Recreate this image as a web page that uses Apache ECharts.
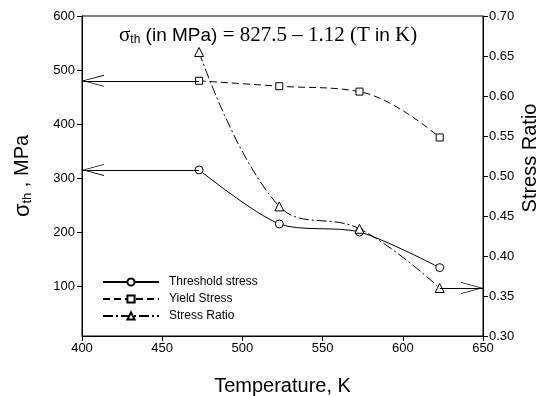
<!DOCTYPE html>
<html>
<head>
<meta charset="utf-8">
<script src="https://cdn.jsdelivr.net/npm/echarts@6/dist/echarts.min.js"></script>
<style>html,body{margin:0;padding:0;background:#fff}#c{width:552px;height:396px}</style>
</head>
<body>
<div id="c"></div>
<script>
// ---- data ----
var temperatures = [473, 523, 573, 623];
var thresholdStress = [315, 215, 200, 134];
var yieldStress = [480, 470, 460, 375];
var stressRatio = [0.655, 0.462, 0.434, 0.36];
var xTicks = [400, 450, 500, 550, 600, 650];
var leftTicks = [100, 200, 300, 400, 500, 600];
var rightTicks = [0.30, 0.35, 0.40, 0.45, 0.50, 0.55, 0.60, 0.65, 0.70];

function pairs(xs, ys) { return xs.map(function (x, i) { return [x, ys[i]]; }); }

var chevron = 'path://M10,0 M10,20 L20,40 L18.6,40 L10,22.5 L1.4,40 L0,40 Z';
var sans = '"Liberation Sans", Arial, sans-serif';
var serif = '"Liberation Serif", "Times New Roman", serif';

var chart = echarts.init(document.getElementById('c'), null, {renderer: 'canvas'});
var axisCommon = {
  axisLine: {show: true, lineStyle: {color: '#000', width: 1}},
  axisTick: {show: true, inside: false, length: 5, lineStyle: {color: '#000'}},
  splitLine: {show: false},
  axisLabel: {color: '#000', fontFamily: sans, fontSize: 13}
};
function arrowLine(from, to, symbols) {
  return {
    silent: true,
    symbol: symbols,
    symbolSize: [12, 44],
    label: {show: false},
    lineStyle: {color: '#000', type: 'solid', width: 1},
    emphasis: {disabled: true},
    animation: false,
    data: [[{coord: from}, {coord: to}]]
  };
}
var option = {
  animation: false,
  backgroundColor: '#fff',
  grid: {left: 82, right: 69, top: 16, bottom: 60, outerBoundsMode: 'none', containLabel: false,
    show: true, borderColor: '#000', borderWidth: 1, backgroundColor: 'transparent'},
  title: {
    text: '{s|σ}{sub|th}{a| (in MPa)}{b| = 827.5 – 1.12 (T }{a|in}{b| K)}',
    left: 114, top: 20,
    textStyle: {
      fontWeight: 'normal',
      rich: {
        s: {fontFamily: serif, fontSize: 21, color: '#000', fontWeight: 'normal'},
        sub: {fontFamily: sans, fontSize: 12, color: '#000', fontWeight: 'normal', verticalAlign: 'bottom', padding: [8, 0, 0, 0]},
        a: {fontFamily: sans, fontSize: 19, color: '#000', fontWeight: 'normal'},
        b: {fontFamily: serif, fontSize: 21, color: '#000', fontWeight: 'normal'}
      }
    }
  },
  legend: {
    orient: 'vertical', left: 97, top: 271,
    itemWidth: 56, itemHeight: 9, itemGap: 5,
    textStyle: {fontFamily: sans, fontSize: 12, color: '#000', padding: [0, 0, 0, 5]},
    data: ['Threshold stress', 'Yield Stress', 'Stress Ratio']
  },
  xAxis: Object.assign({}, axisCommon, {
    type: 'value', min: 400, max: 650, interval: 50,
    name: 'Temperature, K', nameLocation: 'middle', nameGap: 40,
    nameTextStyle: {fontFamily: sans, fontSize: 20, color: '#000'},
    axisLabel: Object.assign({}, axisCommon.axisLabel, {margin: 6, customValues: xTicks}),
    axisTick: Object.assign({}, axisCommon.axisTick, {customValues: xTicks})
  }),
  yAxis: [
    Object.assign({}, axisCommon, {
      type: 'value', min: 7.4, max: 600, position: 'left',
      name: '{s|σ}{sub|th}{a| , MPa}', nameLocation: 'middle', nameGap: 48,
      nameTextStyle: {rich: {
        s: {fontFamily: sans, fontSize: 22, color: '#000'},
        sub: {fontFamily: sans, fontSize: 13, color: '#000', verticalAlign: 'bottom', padding: [10, 0, 0, 0]},
        a: {fontFamily: sans, fontSize: 20, color: '#000'}
      }},
      axisLabel: Object.assign({}, axisCommon.axisLabel, {margin: 7, customValues: leftTicks}),
      axisTick: Object.assign({}, axisCommon.axisTick, {customValues: leftTicks})
    }),
    Object.assign({}, axisCommon, {
      type: 'value', min: 0.30, max: 0.70, position: 'right',
      axisLabel: Object.assign({}, axisCommon.axisLabel, {margin: 6, customValues: rightTicks,
        formatter: function (v) { return v.toFixed(2); }}),
      axisTick: Object.assign({}, axisCommon.axisTick, {customValues: rightTicks})
    })
  ],
  graphic: [{
    type: 'text', x: 530, y: 158, rotation: Math.PI / 2,
    style: {text: 'Stress Ratio', fontFamily: sans, fontSize: 20, fill: '#000', align: 'center', verticalAlign: 'middle'}
  }],
  series: [
    {
      name: 'Threshold stress', type: 'line', yAxisIndex: 0, smooth: 0.28,
      data: pairs(temperatures, thresholdStress),
      symbol: 'circle', symbolSize: 8,
      itemStyle: {color: '#fff', borderColor: '#000', borderWidth: 1},
      lineStyle: {color: '#000', width: 1, type: 'solid'},
      markLine: arrowLine([400, thresholdStress[0]], [temperatures[0], thresholdStress[0]], [chevron, 'none'])
    },
    {
      name: 'Yield Stress', type: 'line', yAxisIndex: 0, smooth: 0.4,
      data: pairs(temperatures, yieldStress),
      symbol: 'rect', symbolSize: 7,
      itemStyle: {color: '#fff', borderColor: '#000', borderWidth: 1},
      lineStyle: {color: '#000', width: 1, type: [7, 4]},
      markLine: arrowLine([400, yieldStress[0]], [temperatures[0], yieldStress[0]], [chevron, 'none'])
    },
    {
      name: 'Stress Ratio', type: 'line', yAxisIndex: 1, smooth: 0.4,
      data: pairs(temperatures, stressRatio),
      symbol: 'triangle', symbolSize: 9,
      itemStyle: {color: '#fff', borderColor: '#000', borderWidth: 1},
      lineStyle: {color: '#000', width: 1, type: [10, 3, 2, 3]},
      markLine: arrowLine([temperatures[3], stressRatio[3]], [650, stressRatio[3]], ['none', chevron])
    }
  ]
};
chart.setOption(option);
</script>
</body>
</html>
